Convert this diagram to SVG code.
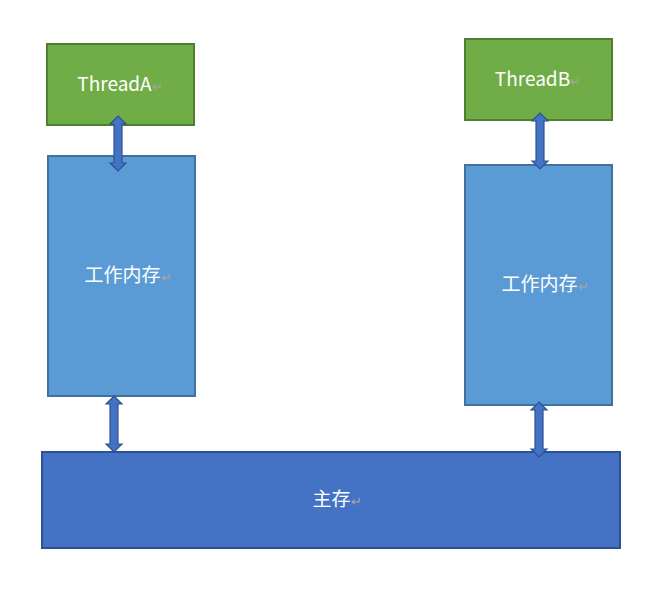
<svg xmlns="http://www.w3.org/2000/svg" width="659" height="595" viewBox="0 0 659 595">
<style>
.g{fill:#70AD47;stroke:#507E32;stroke-width:2}
.b{fill:#5B9BD5;stroke:#41719C;stroke-width:2}
.m{fill:#4472C4;stroke:#2F528F;stroke-width:2}
.t{font-family:"Microsoft YaHei","Noto Sans CJK SC","Liberation Sans",sans-serif;font-size:19px;fill:#fff;text-anchor:middle}
.r{fill:#A6A6A6;font-size:13px}
.a{fill:#4472C4;stroke:#2F528F;stroke-width:1.2}
</style>
<rect width="659" height="595" fill="#fff"/>
<g id="threadA"><rect class="g" x="47" y="44" width="147" height="81"/><text class="t" x="120" y="91">ThreadA<tspan class="r">↵</tspan></text></g>
<g id="threadB"><rect class="g" x="465" y="39" width="147" height="81"/><text class="t" x="538" y="86">ThreadB<tspan class="r">↵</tspan></text></g>
<g id="memA"><rect class="b" x="48" y="156" width="147" height="240"/><text class="t" x="128" y="282">工作内存<tspan class="r">↵</tspan></text></g>
<g id="memB"><rect class="b" x="465" y="165" width="147" height="240"/><text class="t" x="545" y="291">工作内存<tspan class="r">↵</tspan></text></g>
<g id="main"><rect class="m" x="42" y="452" width="578" height="96"/><text class="t" x="337" y="506">主存<tspan class="r">↵</tspan></text></g>
<g id="connectors">
<path class="a" transform="translate(118,116)" d="M0 0L8 8H4V47H8L0 55L-8 47H-4V8H-8Z"/>
<path class="a" transform="translate(114,396)" d="M0 0L8 8H4V48H8L0 56L-8 48H-4V8H-8Z"/>
<path class="a" transform="translate(540,113)" d="M0 0L8 8H4V48H8L0 56L-8 48H-4V8H-8Z"/>
<path class="a" transform="translate(539,402)" d="M0 0L8 8H4V47H8L0 55L-8 47H-4V8H-8Z"/>
</g>
</svg>
